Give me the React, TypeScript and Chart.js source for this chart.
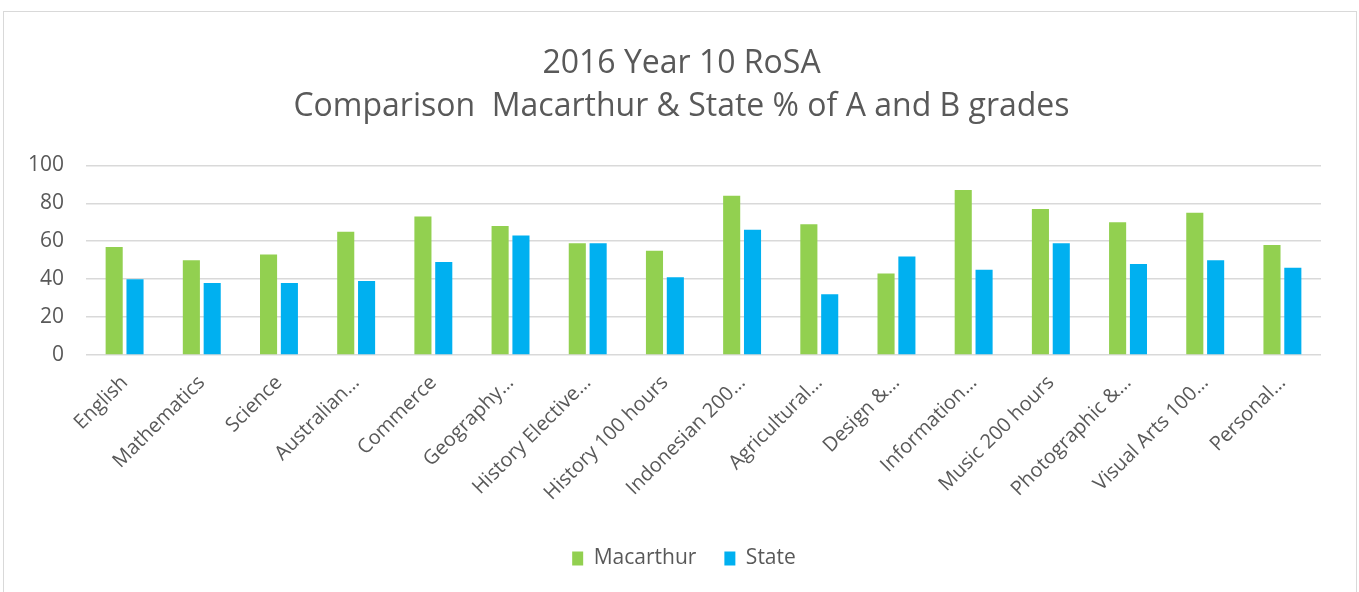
import React, { useEffect, useRef } from "react";
import { Chart, registerables } from "chart.js";

Chart.register(...registerables);

const categories = [
  "English",
  "Mathematics",
  "Science",
  "Australian…",
  "Commerce",
  "Geography…",
  "History Elective…",
  "History 100 hours",
  "Indonesian 200…",
  "Agricultural…",
  "Design &…",
  "Information…",
  "Music 200 hours",
  "Photographic &…",
  "Visual Arts 100…",
  "Personal…",
];

const macarthur = [57, 50, 53, 65, 73, 68, 59, 55, 84, 69, 43, 87, 77, 70, 75, 58];
const state = [40, 38, 38, 39, 49, 63, 59, 41, 66, 32, 52, 45, 59, 48, 50, 46];

const titleLines = ["2016 Year 10 RoSA", "Comparison  Macarthur & State % of A and B grades"];
const yTicks = [0, 20, 40, 60, 80, 100];

const FONT = "'Open Sans', 'Liberation Sans', sans-serif";
const TEXT = "#595959";
const GRID = "#d9d9d9";

// Center title and legend on the whole chart box rather than the padded area
const recenter = {
  id: "recenter",
  afterLayout(chart: any) {
    if (chart.titleBlock) chart.titleBlock.left = 42;
    if (chart.legend) chart.legend.left = 47;
  },
};

export default function App() {
  const ref = useRef<HTMLCanvasElement | null>(null);

  useEffect(() => {
    if (!ref.current) return;
    const chart = new Chart(ref.current, {
      type: "bar",
      data: {
        labels: categories,
        datasets: [
          {
            label: "Macarthur",
            data: macarthur,
            backgroundColor: "#92d050",
            barPercentage: 0.82,
            categoryPercentage: 0.54,
          },
          {
            label: "State",
            data: state,
            backgroundColor: "#00b0f0",
            barPercentage: 0.82,
            categoryPercentage: 0.54,
          },
        ],
      },
      plugins: [recenter],
      options: {
        animation: false,
        responsive: false,
        maintainAspectRatio: false,
        layout: { padding: { left: 20, right: 38, top: 12, bottom: 13 } },
        plugins: {
          title: {
            display: true,
            text: titleLines,
            color: TEXT,
            font: { family: FONT, size: 32, weight: "normal", lineHeight: 1.35 },
            padding: { top: 30, bottom: 37 },
          },
          legend: {
            position: "bottom",
            labels: {
              color: TEXT,
              font: { family: FONT, size: 21 },
              boxWidth: 11,
              boxHeight: 14,
              padding: 28,
            },
          },
          tooltip: { enabled: false },
        },
        scales: {
          x: {
            grid: { display: false, drawTicks: false },
            border: { display: false },
            ticks: {
              color: TEXT,
              font: { family: FONT, size: 20 },
              minRotation: 45,
              maxRotation: 45,
              autoSkip: false,
              padding: 16,
            },
            afterFit: (s: any) => {
              s.height = 165;
            },
          },
          y: {
            min: 0,
            max: 100,
            afterBuildTicks: (s: any) => {
              s.ticks = yTicks.map((v) => ({ value: v }));
            },
            grid: { color: GRID, lineWidth: 1.5, drawTicks: false },
            border: { display: false },
            ticks: {
              color: TEXT,
              font: { family: FONT, size: 21 },
              padding: 22,
            },
            afterFit: (s: any) => {
              s.width = 66;
            },
          },
        },
      },
    });
    return () => chart.destroy();
  }, []);

  return (
    <div style={{ position: "fixed", left: 0, top: 0, width: 1359, height: 592, background: "#fff" }}>
      <div
        style={{
          position: "absolute",
          left: 3,
          top: 11,
          width: 1352,
          height: 640,
          border: "1px solid #d9d9d9",
        }}
      />
      <canvas ref={ref} width={1359} height={592} style={{ position: "absolute", left: 0, top: 0 }} />
    </div>
  );
}
